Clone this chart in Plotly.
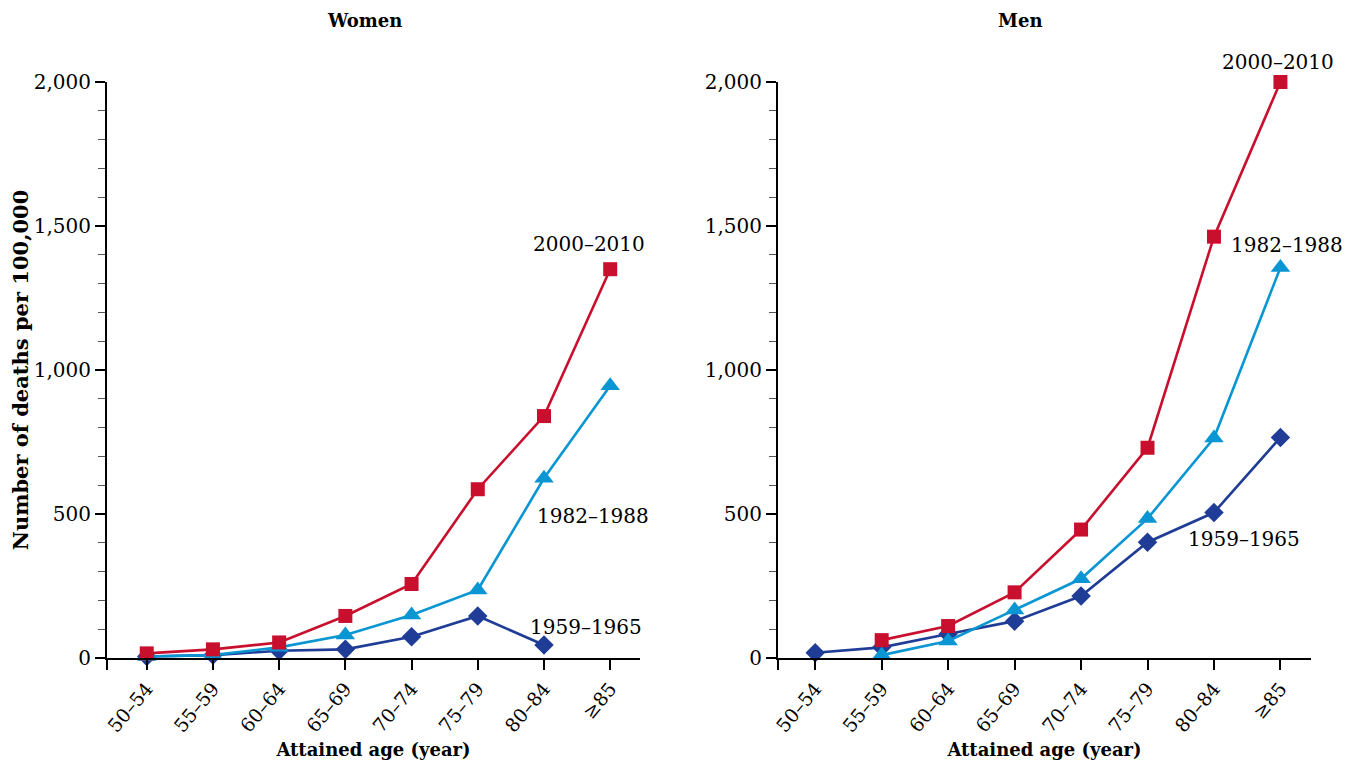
import plotly.graph_objects as go

ages = ["50–54", "55–59", "60–64", "65–69", "70–74", "75–79", "80–84", "≥85"]
periods = ["2000–2010", "1982–1988", "1959–1965"]

women_2000 = [16, 30, 54, 146, 257, 586, 840, 1350]
women_1982 = [5, 10, 37, 80, 149, 236, 624, 945]
women_1959 = [5, 10, 25, 30, 74, 146, 45, None]

men_2000 = [None, 62, 111, 228, 446, 730, 1463, 2000]
men_1982 = [None, 10, 59, 167, 275, 484, 764, 1356]
men_1959 = [18, 37, 83, 128, 215, 402, 505, 766]

y_ticks = [0, 500, 1000, 1500, 2000]
y_tick_text = ["0", "500", "1,000", "1,500", "2,000"]

colors = {"2000–2010": "#C8102E", "1982–1988": "#0A96D2", "1959–1965": "#1F3C96"}
symbols = {"2000–2010": "square", "1982–1988": "triangle-up", "1959–1965": "diamond"}
msize = {"2000–2010": 14, "1982–1988": 17, "1959–1965": 15}

SERIF = "DejaVu Serif"
xi = list(range(len(ages)))

# page body has an 8px margin: work in reference pixels minus 8
W, H = 1348, 760
OFF = 8
def px(v):
    return (v - OFF) / W
def py(v):
    return 1 - (v - OFF) / H

fig = go.Figure()
panels = [
    ("x", "y", {"2000–2010": women_2000, "1982–1988": women_1982, "1959–1965": women_1959}),
    ("x2", "y2", {"2000–2010": men_2000, "1982–1988": men_1982, "1959–1965": men_1959}),
]
for xa, ya, series in panels:
    for p in ["1959–1965", "1982–1988", "2000–2010"]:
        fig.add_trace(go.Scatter(
            x=xi, y=series[p], mode="lines+markers", xaxis=xa, yaxis=ya,
            line=dict(color=colors[p], width=2.6),
            marker=dict(symbol=symbols[p], size=msize[p], color=colors[p]),
            showlegend=False, cliponaxis=False, connectgaps=False, name=p))

# series labels: anchored to a data point of the series, shifted in pixels
labels = [
    ("x", "y", "2000–2010", 7, women_2000[7], -21, 25),
    ("x", "y", "1982–1988", 6, women_1982[6], 49, -38),
    ("x", "y", "1959–1965", 6, women_1959[6], 42, 18),
    ("x2", "y2", "2000–2010", 7, men_2000[7], -2, 20),
    ("x2", "y2", "1982–1988", 7, men_1982[7], 7, 22),
    ("x2", "y2", "1959–1965", 6, men_1959[6], 30, -26),
]
annotations = []
for xa, ya, t, xv, yv, dx, dy in labels:
    annotations.append(dict(x=xv, y=yv, xref=xa, yref=ya, text=t, showarrow=False,
                            xanchor="center", yanchor="middle", xshift=dx, yshift=dy,
                            font=dict(family=SERIF, size=20, color="black")))
annotations.append(dict(x=px(364), y=py(20), xref="paper", yref="paper", text="<b>Women</b>",
                        xanchor="center", yanchor="middle",
                        showarrow=False, font=dict(family=SERIF, size=18, color="black")))
annotations.append(dict(x=px(1020), y=py(20), xref="paper", yref="paper", text="<b>Men</b>",
                        xanchor="center", yanchor="middle",
                        showarrow=False, font=dict(family=SERIF, size=18, color="black")))

def xaxis(domain, anchor, rng):
    return dict(domain=domain, anchor=anchor, range=rng, tickmode="array",
                tickvals=[rng[0]] + xi, ticktext=[""] + ages, tickangle=-50,
                ticks="outside", ticklen=10, tickwidth=1.5, tickcolor="black",
                showline=True, linecolor="black", linewidth=2, showgrid=False, zeroline=False,
                tickfont=dict(family=SERIF, size=19, color="black"),
                title=dict(text="<b>Attained age (year)</b>", font=dict(family=SERIF, size=18, color="black"),
                           standoff=8),
                automargin=False)

def yaxis(anchor, title):
    return dict(domain=[py(658), py(82)], anchor=anchor, range=[0, 2000],
                tickmode="array", tickvals=y_ticks, ticktext=y_tick_text,
                ticks="outside", ticklen=10, tickwidth=1.5, tickcolor="black",
                minor=dict(dtick=100, ticks="outside", ticklen=7, tickwidth=1.2, tickcolor="#555555"),
                showline=True, linecolor="black", linewidth=2, showgrid=False, zeroline=False,
                tickfont=dict(family=SERIF, size=20, color="black"),
                title=dict(text=title, font=dict(family=SERIF, size=21, color="black"), standoff=6),
                automargin=False)

fig.update_layout(
    width=W, height=H,
    margin=dict(l=0, r=0, t=0, b=0),
    paper_bgcolor="white", plot_bgcolor="white",
    xaxis=xaxis([px(107), px(640)], "y", [-0.6, 7.45]),
    yaxis=yaxis("x", "<b>Number of deaths per 100,000</b>"),
    xaxis2=xaxis([px(778), px(1311)], "y2", [-0.56, 7.46]),
    yaxis2=yaxis("x2", ""),
    annotations=annotations,
)

fig.write_html("out.html")
